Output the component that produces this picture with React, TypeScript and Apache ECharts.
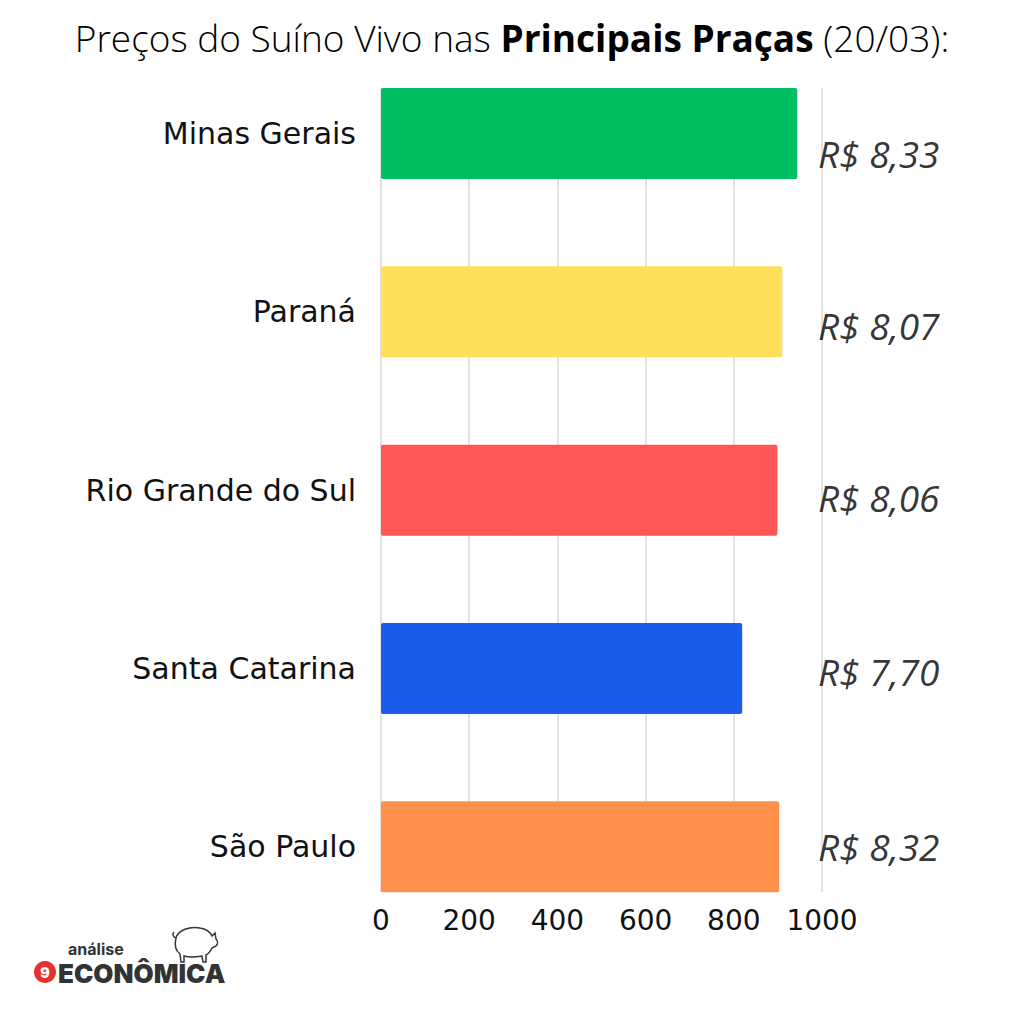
import React, { useEffect, useRef } from "react";
import * as echarts from "echarts";

const categories = ["Minas Gerais", "Paraná", "Rio Grande do Sul", "Santa Catarina", "São Paulo"];
const barValues = [944, 910, 899, 819, 903];
const prices = [8.33, 8.07, 8.06, 7.7, 8.32];
const colors = ["#00BF63", "#FFDE59", "#FF5757", "#1A5CEB", "#FF914D"];
const labelShift = [20, 14, 7, 3, 0];
const xTicks = [0, 200, 400, 600, 800, 1000];

const pigPath =
  "M8 14 C10 6 22 2 32 4 C38 5 42 8 44 12 L47 9 L48 15 C50 17 50 20 48 22 L44 24 C42 28 40 30 38 31 L38 38 L35 38 L34 32 C28 33 20 33 16 32 L16 38 L13 38 L12 30 C8 27 6 22 8 14 Z M8 14 C5 13 4 10 6 8";

echarts.graphic.registerShape("pig", echarts.graphic.extendPath(pigPath, {}) as any);

export default function App() {
  const ref = useRef<HTMLDivElement>(null);
  useEffect(() => {
    const chart = echarts.init(ref.current!, null, { renderer: "svg" });
    const font = "DejaVu Sans";
    chart.setOption({
      animation: false,
      backgroundColor: "#ffffff",
      title: {
        left: "center",
        top: 14,
        text: "{l|Preços do Suíno Vivo nas }{b|Principais Praças}{l| (20/03):}",
        textStyle: {
          rich: {
            l: { fontFamily: "Open Sans", fontWeight: 300, fontSize: 37, color: "#000" },
            b: { fontFamily: "Open Sans", fontWeight: 700, fontSize: 37, color: "#000" },
          },
        },
      },
      grid: [
        { left: 381, right: 202, top: 88, bottom: 132 },
        { left: 381, right: 202, top: 44.3, bottom: 88 },
      ],
      xAxis: [
        {
          gridIndex: 0,
          type: "value",
          min: 0,
          max: 1000,
          interval: 200,
          axisLine: { show: false },
          axisTick: { show: false },
          splitLine: { show: true, lineStyle: { color: "#d9d9d9", width: 1.5 } },
          axisLabel: { fontFamily: font, fontSize: 28, color: "#111", margin: 14,
            formatter: (v: number) => (xTicks.includes(v) ? String(v) : "") },
        },
        {
          gridIndex: 1,
          type: "value",
          min: 0,
          max: 1000,
          show: false,
        },
      ],
      yAxis: [
        { gridIndex: 0, type: "category", data: categories, show: false },
        {
          gridIndex: 1,
          type: "category",
          data: categories,
          inverse: true,
          axisLine: { show: false },
          axisTick: { show: false },
          axisLabel: { fontFamily: font, fontSize: 30, color: "#111", margin: 25 },
        },
      ],
      series: [
        {
          type: "bar",
          xAxisIndex: 1,
          yAxisIndex: 1,
          barWidth: 91,
          data: barValues.map((v, i) => ({ value: v, itemStyle: { color: colors[i], borderRadius: 2 } })),
        },
        {
          type: "scatter",
          xAxisIndex: 1,
          yAxisIndex: 1,
          symbolSize: 0,
          data: prices.map((p, i) => ({
            value: [1000, categories[i]],
            label: {
              show: true,
              position: "right",
              distance: -4,
              offset: [0, labelShift[i]],
              formatter: "R$ " + p.toFixed(2).replace(".", ","),
              fontFamily: "Open Sans",
              fontStyle: "italic",
              fontWeight: 400,
              fontSize: 37,
              letterSpacing: 0.8,
              color: "#000",
            },
          })),
        },
      ],
      graphic: [
        { type: "circle", shape: { cx: 45, cy: 972, r: 11 }, style: { fill: "#E8312F" } },
        { type: "text", x: 45, y: 972, style: { text: "9", fill: "#fff", fontSize: 14, fontWeight: 900, align: "center", verticalAlign: "middle", fontFamily: "Inter" } },
        { type: "text", x: 68, y: 957, style: { text: "análise", fill: "#333", fontSize: 16, fontWeight: 700, fontFamily: "Inter", verticalAlign: "bottom" } },
        { type: "text", x: 58, y: 960, style: { text: "ECONÔMICA", fill: "#333", fontSize: 26, fontWeight: 900, fontFamily: "Inter", verticalAlign: "top", letterSpacing: -1 } },
        { type: "pig", x: 168, y: 924, scaleX: 1, scaleY: 1, style: { fill: "none", stroke: "#333", lineWidth: 1.5 } },
      ],
    });
    return () => chart.dispose();
  }, []);
  return <div ref={ref} style={{ position: "fixed", left: 0, top: 0, width: 1024, height: 1024 }} />;
}
